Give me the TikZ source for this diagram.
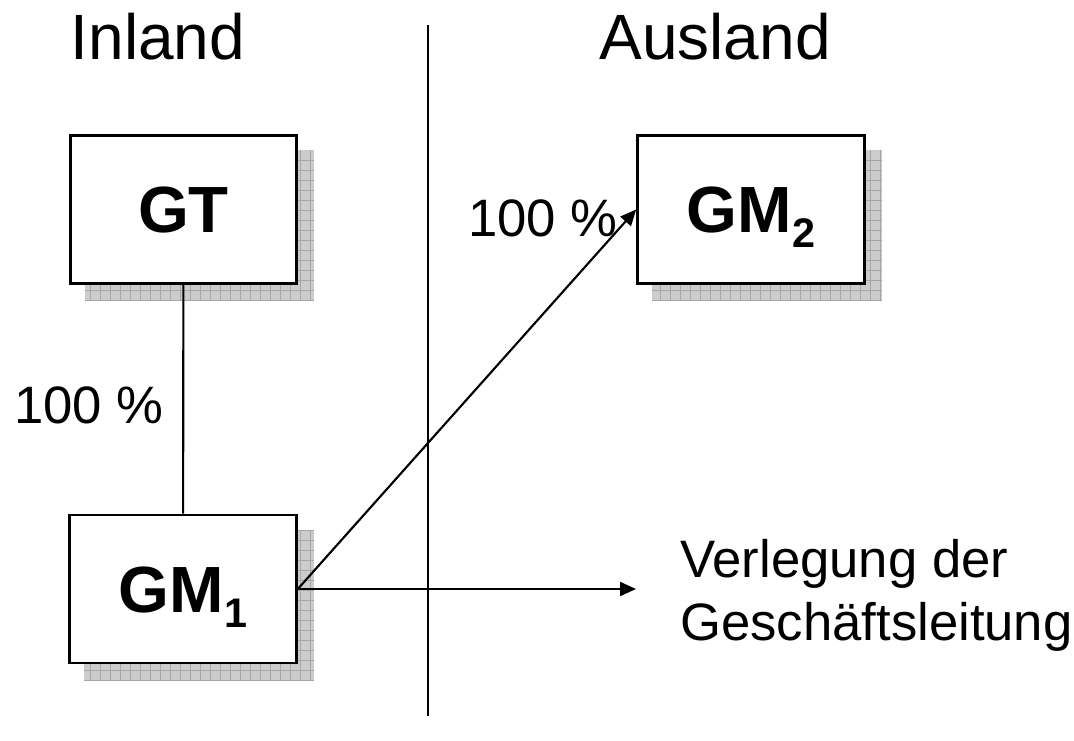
\documentclass[tikz,border=0pt]{standalone}
\usepackage{fontspec}
\setmainfont{Liberation Sans}
\usetikzlibrary{arrows.meta,backgrounds}
\newcommand{\subidx}[1]{\raisebox{-11pt}{\fontsize{31}{31}\selectfont #1}}
\begin{document}
\begin{tikzpicture}[x=0.75pt,y=-0.75pt,
  company/.style={draw,line width=2.2pt,fill=white,minimum width=170pt,
    minimum height=111pt,inner sep=0pt,text height=35pt,text depth=0pt,
    font=\fontsize{49}{56}\selectfont\bfseries},
  heading/.style={anchor=base,inner sep=0pt,font=\fontsize{48}{56}\selectfont},
  share/.style={anchor=base,inner sep=0pt,font=\fontsize{39.5}{47}\selectfont},
  note/.style={anchor=base west,inner sep=0pt,font=\fontsize{39.5}{47}\selectfont},
  link/.style={line width=1.6pt},
  arrowlink/.style={line width=1.6pt,-{Triangle[length=12pt,width=10.5pt]}},
  shadowfill/.style={fill=gray!40},
  shadowgrid/.style={draw=gray!70,line width=0.45pt}]
  \useasboundingbox (0,0) rectangle (1074,740);

  % headings and the border line between both countries
  \node[heading] (inland) at (158,59) {Inland};
  \node[heading] (ausland) at (715,59) {Ausland};
  \coordinate (bordertop) at (428,25);
  \coordinate (borderbottom) at (428,716);
  \draw[link] (bordertop) -- (borderbottom);

  % companies
  \node[company] (gt) at (183.5,209.5) {GT};
  \node[company] (gm1) at (183,589) {GM\subidx{1}};
  \node[company] (gm2) at (751,209.5) {GM\subidx{2}};

  % hatched drop shadows behind the boxes
  \begin{scope}[on background layer]
    \foreach \n in {gt,gm1,gm2}{
      \begin{scope}
        \clip ([shift={(16,16)}]\n.north west) rectangle ([shift={(16,16)}]\n.south east);
        \fill[shadowfill] ([shift={(16,16)}]\n.north west) rectangle ([shift={(16,16)}]\n.south east);
        \draw[shadowgrid,step=7.5pt] ([shift={(16,16)}]\n.north west) grid ([shift={(16,16)}]\n.south east);
      \end{scope}
    }
  \end{scope}

  % shareholdings
  \draw[link] (gt) -- (gm1);
  \node[share] (share1) at (89,423) {100 \%};
  \draw[arrowlink] (gm1.east) -- (gm2.west);
  \node[share] (share2) at (543,236) {100 \%};

  % relocation of the management
  \coordinate (moveend) at (636,589);
  \draw[arrowlink] (gm1.east) -- (moveend);
  \node[note] (move1) at (680,577) {Verlegung der};
  \node[note] (move2) at (680,640) {Geschäftsleitung};
\end{tikzpicture}
\end{document}
